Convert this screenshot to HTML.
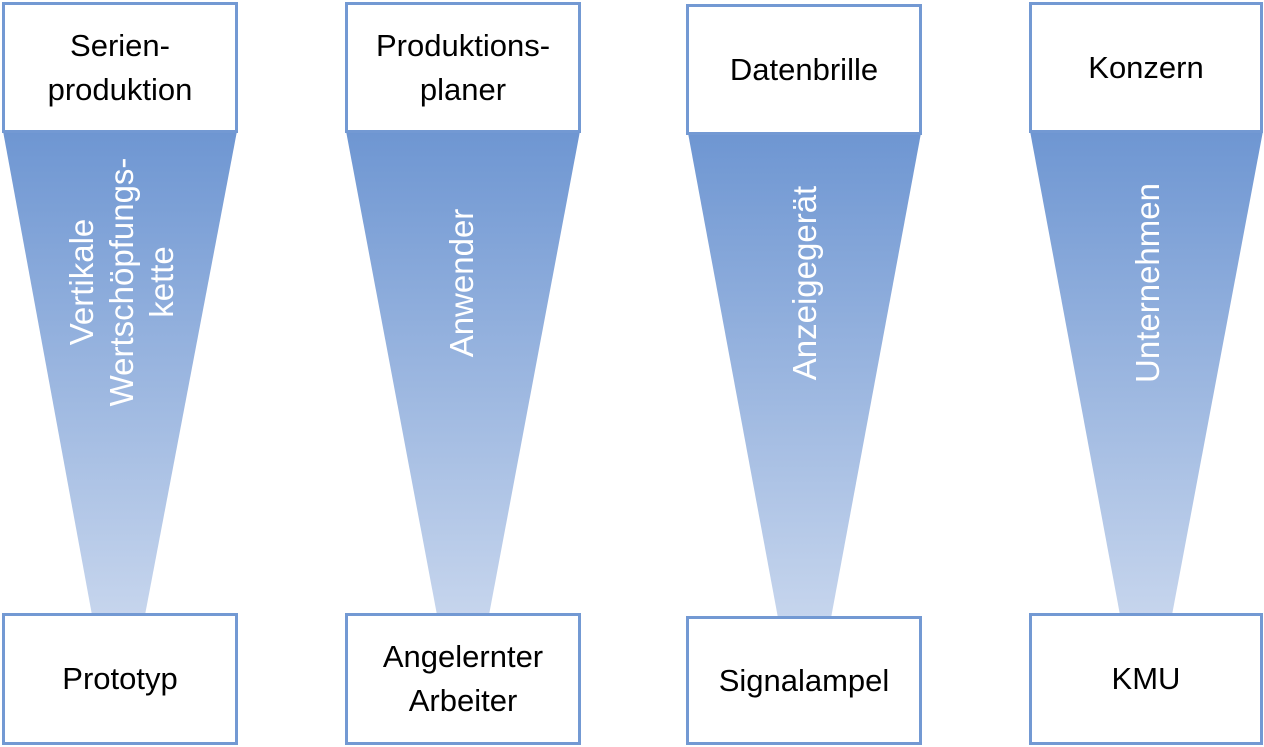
<!DOCTYPE html>
<html><head><meta charset="utf-8"><style>
body{margin:0;width:1264px;height:747px;background:#fff;position:relative;overflow:hidden;font-family:"Liberation Sans",sans-serif}
.b{position:absolute;box-sizing:border-box;border:3px solid #7399d3;background:#fff;display:flex;align-items:center;justify-content:center;text-align:center;font-size:31px;line-height:44px;color:#000}
.v{position:absolute;color:#fff;font-size:33px;line-height:40px;text-align:center;white-space:nowrap;transform:translate(-50%,-50%) rotate(-90deg)}
</style></head><body>
<svg width="1264" height="747" style="position:absolute;left:0;top:0">
<defs><linearGradient id="g" x1="0" y1="0" x2="0" y2="1"><stop offset="0" stop-color="#6e96d2"/><stop offset="1" stop-color="#c6d5ed"/></linearGradient></defs>
<polygon points="3,131 237,131 145,615 92,615" fill="url(#g)"/>
<polygon points="346,131 580,131 489,615 437,615" fill="url(#g)"/>
<polygon points="688,133 921,133 831,618 778,618" fill="url(#g)"/>
<polygon points="1030,131 1263,131 1172,615 1120,615" fill="url(#g)"/>
</svg>
<div class="b" style="left:2px;top:2px;width:236px;height:131px">Serien-<br>produktion</div>
<div class="b" style="left:345px;top:2px;width:236px;height:131px">Produktions-<br>planer</div>
<div class="b" style="left:686px;top:4px;width:236px;height:131px">Datenbrille</div>
<div class="b" style="left:1029px;top:2px;width:234px;height:131px">Konzern</div>
<div class="b" style="left:2px;top:613px;width:236px;height:132px">Prototyp</div>
<div class="b" style="left:345px;top:613px;width:236px;height:132px">Angelernter<br>Arbeiter</div>
<div class="b" style="left:686px;top:616px;width:236px;height:129px">Signalampel</div>
<div class="b" style="left:1029px;top:613px;width:234px;height:132px">KMU</div>
<div class="v" style="left:122px;top:282px">Vertikale<br>Wertschöpfungs-<br>kette</div>
<div class="v" style="left:462px;top:283px">Anwender</div>
<div class="v" style="left:805px;top:283px">Anzeigegerät</div>
<div class="v" style="left:1148px;top:283px">Unternehmen</div>
</body></html>
